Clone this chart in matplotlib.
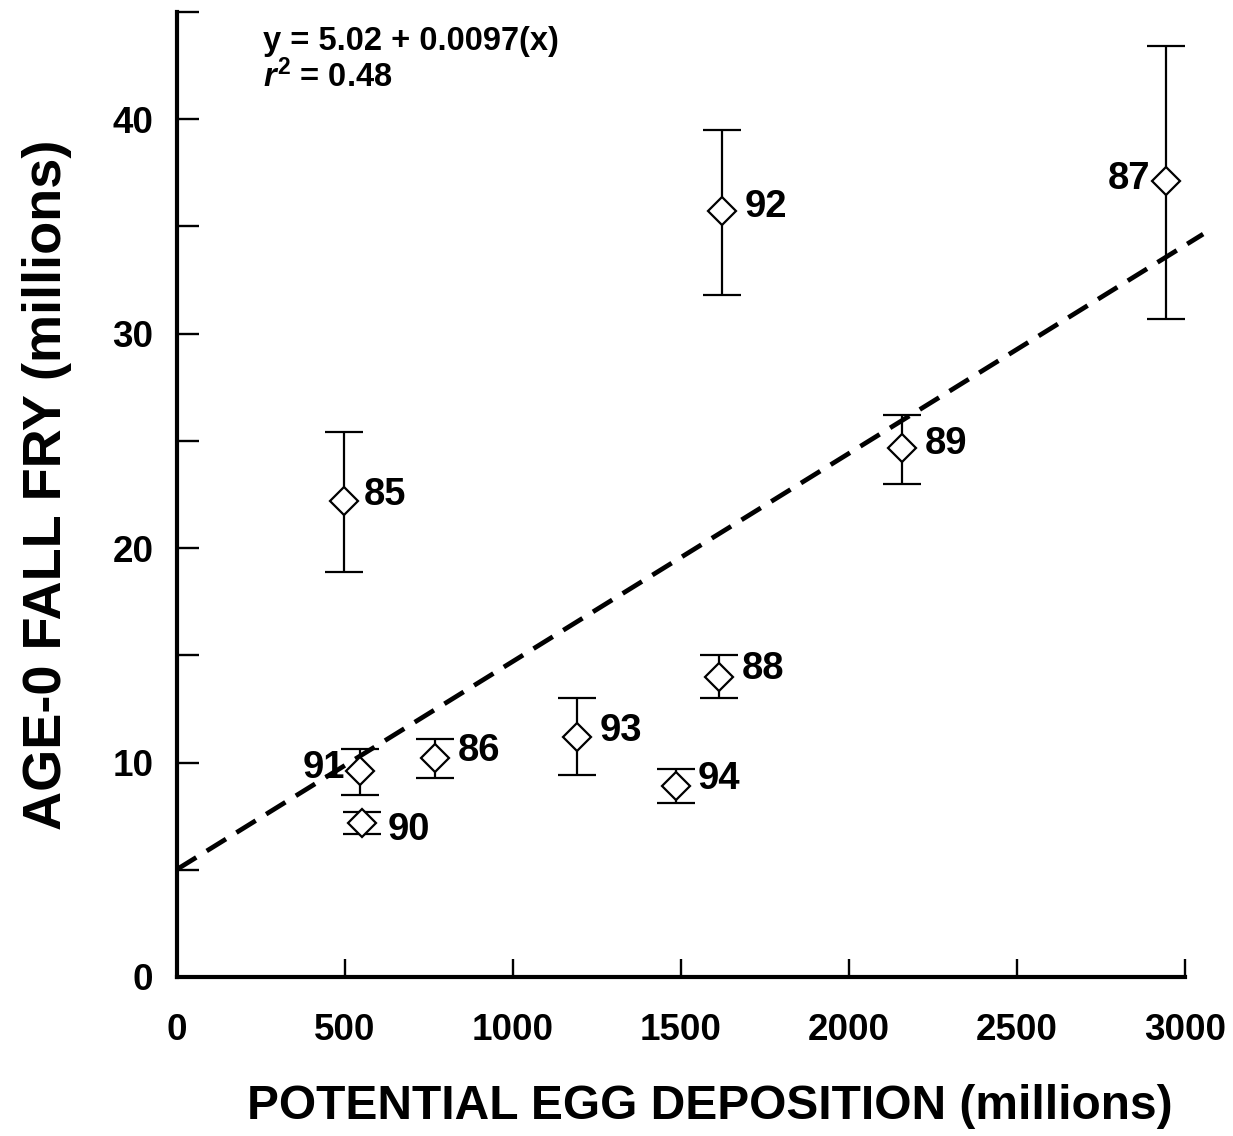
import matplotlib.pyplot as plt
from matplotlib.ticker import MultipleLocator

plt.rcParams['font.family'] = ['Liberation Sans', 'DejaVu Sans']
plt.rcParams['font.weight'] = 'bold'
plt.rcParams['mathtext.fontset'] = 'custom'
plt.rcParams['mathtext.rm'] = 'Liberation Sans:bold'
plt.rcParams['mathtext.it'] = 'Liberation Sans:italic:bold'
plt.rcParams['mathtext.bf'] = 'Liberation Sans:bold'

# spawning year, egg deposition (millions), fall fry (millions), error bar ends
years = ['85', '86', '87', '88', '89', '90', '91', '92', '93', '94']
eggs = [497, 768, 2943, 1613, 2158, 551, 545, 1622, 1190, 1485]
fry = [22.2, 10.2, 37.1, 14.0, 24.65, 7.16, 9.6, 35.7, 11.2, 8.9]
fry_hi = [25.4, 11.1, 43.4, 15.0, 26.2, 7.7, 10.65, 39.5, 13.0, 9.7]
fry_lo = [18.9, 9.26, 30.7, 13.0, 23.0, 6.65, 8.5, 31.8, 9.4, 8.1]

intercept = 5.02
slope = 0.0097

# label offsets in pixels (dx, dy)
lab_off = [(20, 6), (23, 7), (-16, 2), (23, 8), (23, 4), (25, -7), (-15, 3), (23, 4), (23, 6), (22, 7)]

fig = plt.figure(figsize=(12.33, 11.36), dpi=100)
ax = fig.add_axes([177 / 1233, 1 - 977 / 1136, (1185 - 177) / 1233, (977 - 12) / 1136])

err_lo = [f - l for f, l in zip(fry, fry_lo)]
err_hi = [h - f for f, h in zip(fry, fry_hi)]
ax.errorbar(eggs, fry, yerr=[err_lo, err_hi], fmt='D', mfc='white', mec='black',
            ms=14, mew=1.6, ecolor='black', elinewidth=1.6, capsize=14, capthick=1.6,
            zorder=3)

xs = [0, 3054]
ax.plot(xs, [intercept + slope * x for x in xs], color='black', lw=3.4,
        ls=(0, (4.8, 2.6)), clip_on=False, zorder=2)

for yr, x, y, (dx, dy) in zip(years, eggs, fry, lab_off):
    ha = 'left' if dx > 0 else 'right'
    ax.annotate(yr, (x, y), xytext=(dx * 0.72, dy * 0.72), textcoords='offset points',
                ha=ha, va='center', fontsize=27.5, fontweight='bold', zorder=4)

ax.text(0.085, 0.961, 'y = 5.02 + 0.0097(x)', transform=ax.transAxes,
        fontsize=23.5, fontweight='bold', va='baseline')
ax.text(0.085, 0.9225, r'$\mathit{r}^{2}$ = 0.48', transform=ax.transAxes,
        fontsize=23.5, fontweight='bold', va='baseline')

ax.set_xlim(0, 3000)
ax.set_ylim(0, 45)
ax.xaxis.set_major_locator(MultipleLocator(500))
ax.yaxis.set_major_locator(MultipleLocator(10))
ax.yaxis.set_minor_locator(MultipleLocator(5))
ax.tick_params(axis='both', which='both', direction='in', width=1.7, labelsize=26.5)
ax.tick_params(axis='x', which='both', length=13, pad=26)
ax.tick_params(axis='y', which='both', length=16, pad=17)
for lbl in ax.get_xticklabels() + ax.get_yticklabels():
    lbl.set_fontweight('bold')

for side in ['top', 'right']:
    ax.spines[side].set_visible(False)
for side in ['left', 'bottom']:
    ax.spines[side].set_linewidth(3)

ax.set_xlabel('POTENTIAL EGG DEPOSITION (millions)', fontsize=34.5, fontweight='bold')
ax.xaxis.set_label_coords(0.529, -0.111, transform=ax.transAxes)
ax.set_ylabel('AGE-0 FALL FRY (millions)', fontsize=39, fontweight='bold', labelpad=29)
ax.yaxis.label.set_y(0.51)

fig.savefig('out.png', dpi=100)
